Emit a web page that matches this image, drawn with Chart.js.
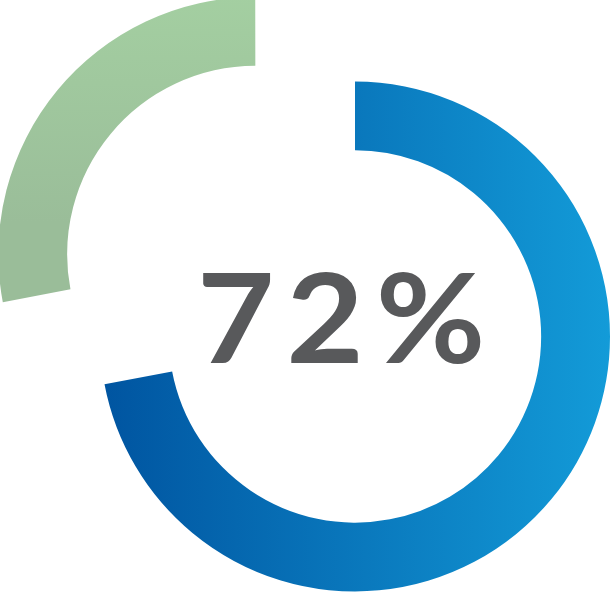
<!DOCTYPE html>
<html>
<head>
<meta charset="utf-8">
<script src="https://cdn.jsdelivr.net/npm/chart.js@4"></script>
<style>
  html, body { margin: 0; padding: 0; background: #fff; }
  #wrap { width: 610px; height: 593px; }
</style>
</head>
<body>
<div id="wrap"><canvas id="donut"></canvas></div>
<script>
const labels = ['Yes', 'No']
const values = [72, 28]
const centerLabel = '72%'

// gradient per slice, built once the chart area is known
const sliceColor = (ctx) => {
  const { chart, dataIndex } = ctx
  const area = chart.chartArea
  if (!area) return '#0a7cc4'
  const c = chart.ctx
  if (dataIndex === 0) {
    const g = c.createLinearGradient(area.left, 0, area.right, 0)
    g.addColorStop(0, '#0054a0')
    g.addColorStop(1, '#139bd8')
    return g
  }
  const g = c.createLinearGradient(0, 0, 0, 305)
  g.addColorStop(0, '#a7d5a4')
  g.addColorStop(1, '#9abd99')
  return g
}

const centerText = {
  id: 'centerText',
  afterDatasetsDraw(chart) {
    const arc = chart.getDatasetMeta(0).data[0]
    const c = chart.ctx
    c.save()
    c.translate(arc.x - 8, arc.y + 26)
    c.scale(1.07, 1)
    c.fillStyle = '#58595b'
    c.font = 'bold 125px Lato'
    c.letterSpacing = '11px'
    c.textAlign = 'center'
    c.textBaseline = 'alphabetic'
    c.fillText(centerLabel, 0, 0)
    c.restore()
  },
}

new Chart(document.getElementById('donut'), {
  type: 'doughnut',
  data: {
    labels: labels,
    datasets: [
      {
        data: values,
        backgroundColor: sliceColor,
        borderWidth: 0,
        // chart.js draws a quarter of this offset
        offset: [0, 516],
      },
    ],
  },
  options: {
    responsive: true,
    maintainAspectRatio: false,
    animation: false,
    radius: 255,
    cutout: '73%',
    layout: { padding: { left: 100, top: 80, right: 0, bottom: 0 } },
    plugins: {
      legend: { display: false },
      tooltip: { enabled: false },
    },
  },
  plugins: [centerText],
})
</script>
</body>
</html>
